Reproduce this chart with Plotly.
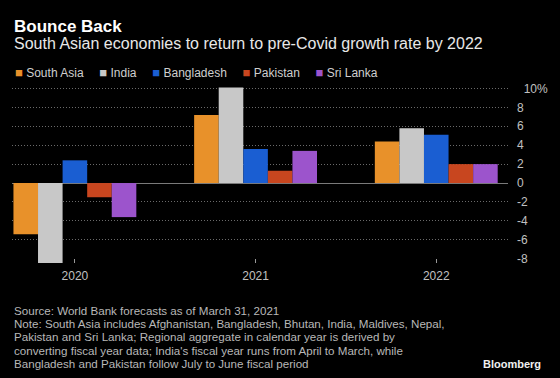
import plotly.graph_objects as go

# ---- data ----
years = ["2020", "2021", "2022"]
series_names = ["South Asia", "India", "Bangladesh", "Pakistan", "Sri Lanka"]
south_asia = [-5.4, 7.2, 4.4]
india = [-8.5, 10.1, 5.8]
bangladesh = [2.4, 3.6, 5.1]
pakistan = [-1.5, 1.3, 2.0]
sri_lanka = [-3.6, 3.4, 2.0]
series_values = [south_asia, india, bangladesh, pakistan, sri_lanka]
colors = ["#E8912A", "#C8C8C8", "#1A5ED2", "#C8461F", "#9C54CC"]
y_tick_vals = [-8, -6, -4, -2, 0, 2, 4, 6, 8, 10]
y_tick_text = ["-8", "-6", "-4", "-2", "0", "2", "4", "6", "8", "\u00a0\u00a010%"]
grid_vals = [-6, -4, -2, 2, 4, 6, 8, 10]

title = "Bounce Back"
subtitle = "South Asian economies to return to pre-Covid growth rate by 2022"
footer_lines = [
    "Source: World Bank forecasts as of March 31, 2021",
    "Note: South Asia includes Afghanistan, Bangladesh, Bhutan, India, Maldives, Nepal,",
    "Pakistan and Sri Lanka; Regional aggregate in calendar year is derived by",
    "converting fiscal year data; India's fiscal year runs from April to March, while",
    "Bangladesh and Pakistan follow July to June fiscal period",
]

# ---- layout geometry (pixels) ----
W, H = 560, 378
L, R = 12, 511
T, B = 87.4, 263.5
FONT = "Liberation Sans, Arial, sans-serif"


def px(x):
    return (x - L) / (R - L)


def py(y):
    return (B - y) / (B - T)


fig = go.Figure()
for name, vals, col in zip(series_names, series_values, colors):
    fig.add_trace(go.Bar(x=years, y=vals, name=name, marker=dict(color=col, line=dict(width=0)),
                         showlegend=False))
# invisible helper trace so the right-hand label axis is drawn
fig.add_trace(go.Scatter(x=years, y=south_asia, yaxis="y2", mode="markers",
                         marker=dict(opacity=0), hoverinfo="skip", showlegend=False))

annotations = []
annotations.append(dict(text="<b>" + title + "</b>", x=px(12), y=py(26.8), xref="paper", yref="paper",
                        xanchor="left", yanchor="middle", showarrow=False,
                        font=dict(family=FONT, size=17, color="#FFFFFF")))
annotations.append(dict(text=subtitle, x=px(12), y=py(43.8), xref="paper", yref="paper",
                        xanchor="left", yanchor="middle", showarrow=False,
                        font=dict(family=FONT, size=16, color="#E8E8E8")))

legend_parts = []
for name, col in zip(series_names, colors):
    legend_parts.append('<span style="color:%s;font-size:13px">\u25A0</span>\u00a0%s' % (col, name))
legend_text = "\u00a0\u00a0\u00a0\u00a0\u2009".join(legend_parts)
annotations.append(dict(text=legend_text, x=px(13), y=py(72.5), xref="paper", yref="paper",
                        xanchor="left", yanchor="middle", showarrow=False,
                        font=dict(family=FONT, size=12, color="#CFCFCF")))

for i, line in enumerate(footer_lines):
    annotations.append(dict(text=line, x=px(12), y=py(311 + i * 13.2), xref="paper", yref="paper",
                            xanchor="left", yanchor="middle", showarrow=False,
                            font=dict(family=FONT, size=11.6, color="#B8B8B8")))
annotations.append(dict(text="<b>Bloomberg</b>", x=px(546), y=py(365), xref="paper", yref="paper",
                        xanchor="right", yanchor="middle", showarrow=False,
                        font=dict(family=FONT, size=11, color="#F0F0F0")))

fig.update_layout(
    width=W, height=H,
    margin=dict(l=L, r=W - R, t=T, b=H - B, pad=0),
    paper_bgcolor="#000000", plot_bgcolor="#000000",
    barmode="group", bargap=0.32, bargroupgap=0,
    showlegend=False,
    annotations=annotations,
    font=dict(family=FONT, size=12, color="#BBBBBB"),
    xaxis=dict(type="category", range=[-0.348, 2.397], showgrid=False, zeroline=False,
               showline=False, ticks="inside", ticklen=4, tickwidth=1, tickcolor="#999999",
               tickfont=dict(family=FONT, size=12, color="#C0C0C0"), ticklabelstandoff=4),
    yaxis=dict(range=[-8.45, 10.15], tickvals=grid_vals, showticklabels=False, showgrid=True,
               gridcolor="#6A6A6A", gridwidth=1, griddash="1px,2px", zeroline=True,
               zerolinecolor="#7A7A7A", zerolinewidth=1, showline=False, ticks=""),
    yaxis2=dict(range=[-8.45, 10.15], overlaying="y", side="right", tickvals=y_tick_vals,
                ticktext=y_tick_text, showgrid=False, zeroline=False, showline=False, ticks="",
                tickfont=dict(family=FONT, size=12, color="#C0C0C0"), ticklabelstandoff=8),
)

fig.write_html("out.html", config={"displayModeBar": False},
               post_script="document.body.style.margin='0';")
